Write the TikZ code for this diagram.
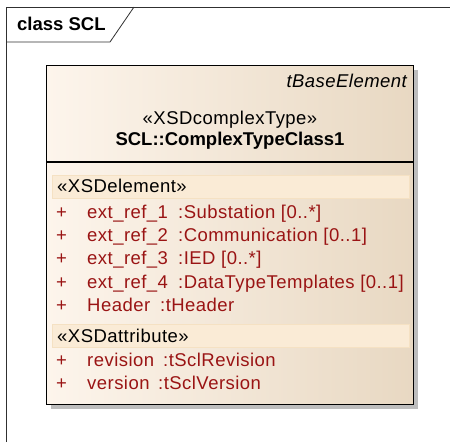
\documentclass[tikz,border=0pt]{standalone}
\usepackage{fontspec}
\setmainfont{Liberation Sans}[LetterSpace=2.5, BoldFeatures={LetterSpace=0}]
\usetikzlibrary{positioning}
\definecolor{attr}{HTML}{9A1414}
\definecolor{boxL}{HTML}{FDF5EC}
\definecolor{boxR}{HTML}{E8D8C2}
\definecolor{band}{HTML}{FAEBD6}
\definecolor{bandline}{HTML}{F5E1C3}
\definecolor{shadow}{HTML}{BDBDBD}
\definecolor{frameline}{HTML}{303030}
\tikzset{
  txt/.style={inner sep=0pt, font=\fontsize{18.5}{20}\selectfont},
  attrtxt/.style={txt, text=attr, anchor=base west},
  stereo/.style={txt, anchor=base west, text=black},
  bandbox/.style={fill=band, draw=bandline, line width=0.8pt},
}
\begin{document}
\begin{tikzpicture}[x=1pt,y=-1pt]
\useasboundingbox (0,0) rectangle (450,442);
% frame
\draw[frameline, line width=0.8pt] (6,442) -- (6,7) -- (450,7);
\draw[frameline, line width=0.8pt] (6,42) -- (110,42) -- (134,7);
\node[txt, font=\fontsize{18.5}{20}\selectfont\bfseries, anchor=base west] (title) at (17,30.5) {class SCL};
% shadow
\fill[shadow] (51,70) rectangle (418,409);
% class box
\node[draw=black, line width=1.2pt, left color=boxL, right color=boxR, minimum width=367pt, minimum height=339pt, inner sep=0pt, anchor=north west] (cls) at (46,65) {};
\draw[line width=1.2pt] (cls.west |- 0,162) coordinate (divL) -- (cls.east |- 0,162) coordinate (divR);
% header texts
\node[txt, font=\fontsize{18.5}{20}\selectfont\itshape, anchor=base east] (base) at (407,87.5) {tBaseElement};
\node[txt, anchor=base] (ster) at (230,124.5) {«XSDcomplexType»};
\node[txt, font=\fontsize{18.5}{20}\selectfont\bfseries, anchor=base] (name) at (230,145.5) {SCL::ComplexTypeClass1};
% XSDelement section
\node[bandbox, anchor=north west, minimum width=357pt, minimum height=23pt, inner sep=0pt] (band1) at (52,175) {};
\node[stereo] (el) at (57,192.5) {«XSDelement»};
\foreach \y/\n/\t/\tx [count=\i] in {212/ext\_ref\_1/:Substation [0..*]/178,
                             235/ext\_ref\_2/:Communication [0..1]/178,
                             258/ext\_ref\_3/:IED [0..*]/178,
                             282/ext\_ref\_4/:DataTypeTemplates [0..1]/178,
                             305/Header/:tHeader/160}{
  \node[attrtxt] (p\i) at (56,\y+6.5) {+};
  \node[attrtxt] (n\i) at (87,\y+6.5) {\n};
  \node[attrtxt] (t\i) at (\tx,\y+6.5) {\t};
}
% XSDattribute section
\node[bandbox, anchor=north west, minimum width=357pt, minimum height=23pt, inner sep=0pt] (band2) at (52,324) {};
\node[stereo] (at) at (57,342.5) {«XSDattribute»};
\foreach \y/\n/\t/\tx [count=\i] in {360/revision/:tSclRevision/163,
                             383/version/:tSclVersion/158}{
  \node[attrtxt] (ap\i) at (56,\y+6.5) {+};
  \node[attrtxt] (an\i) at (87,\y+6.5) {\n};
  \node[attrtxt] (at\i) at (\tx,\y+6.5) {\t};
}
\end{tikzpicture}
\end{document}
